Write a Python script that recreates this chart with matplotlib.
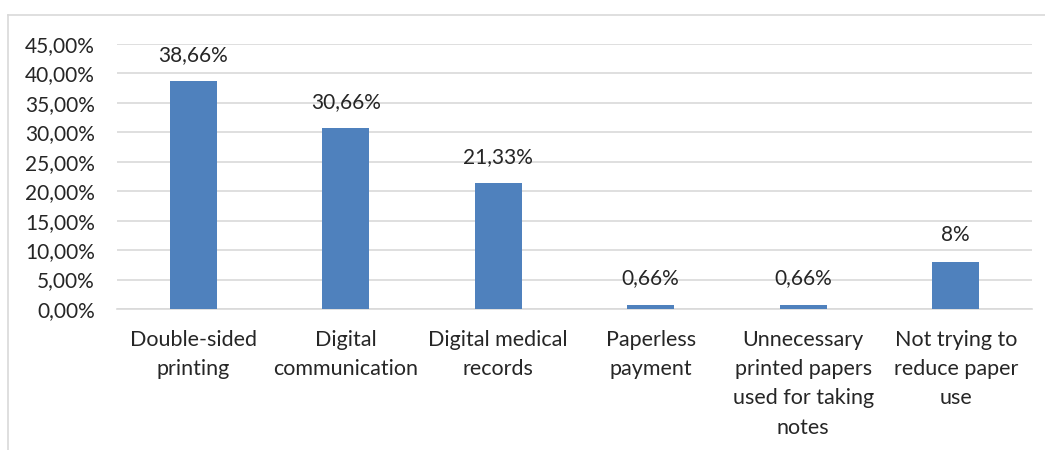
import numpy as np
import matplotlib.pyplot as plt
from matplotlib.lines import Line2D

categories = ["Double-sided\nprinting", "Digital\ncommunication", "Digital medical\nrecords",
              "Paperless\npayment", "Unnecessary\nprinted papers\nused for taking\nnotes",
              "Not trying to\nreduce paper\nuse"]
values = [38.66, 30.66, 21.33, 0.66, 0.66, 8.0]
value_labels = ["38,66%", "30,66%", "21,33%", "0,66%", "0,66%", "8%"]
yticks = [0, 5, 10, 15, 20, 25, 30, 35, 40, 45]

plt.rcParams['font.family'] = ['Lato', 'DejaVu Sans']

fig = plt.figure(figsize=(10.45, 4.5), dpi=100)
ax = fig.add_axes([117 / 1045, 1 - 309 / 450, (1032 - 117) / 1045, 265 / 450])

x = np.arange(len(categories))
bars = ax.bar(x, values, width=0.31, color="#4F81BD", zorder=3)

for xi, v, lab in zip(x, values, value_labels):
    ax.annotate(lab, (xi, v), xytext=(0, 12), textcoords="offset points",
                ha="center", va="bottom", fontsize=15, color="#262626")

ax.set_xlim(-0.5, len(categories) - 0.5)
ax.set_ylim(0, 45)
ax.set_yticks(yticks)
ax.set_yticklabels(["%d,00%%" % t for t in yticks], fontsize=15, color="#262626")
ax.set_xticks(x)
ax.set_xticklabels(categories, fontsize=15.5, color="#262626", linespacing=1.58, va="top")
ax.tick_params(axis="both", length=0)
ax.tick_params(axis="x", pad=15)
ax.tick_params(axis="y", pad=16)

ax.grid(axis="y", color="#D9D9D9", linewidth=1.2, zorder=0)
for s in ["top", "right", "left"]:
    ax.spines[s].set_visible(False)
ax.spines["bottom"].set_color("#D9D9D9")
ax.spines["bottom"].set_linewidth(1.2)

# chart frame (only top and left edges visible in the crop)
fig.add_artist(Line2D([8 / 1045, 1], [1 - 15 / 450, 1 - 15 / 450], color="#D9D9D9", lw=1.2))
fig.add_artist(Line2D([8 / 1045, 8 / 1045], [0, 1 - 15 / 450], color="#D9D9D9", lw=1.2))

fig.savefig("out.png", dpi=100, facecolor="white")
